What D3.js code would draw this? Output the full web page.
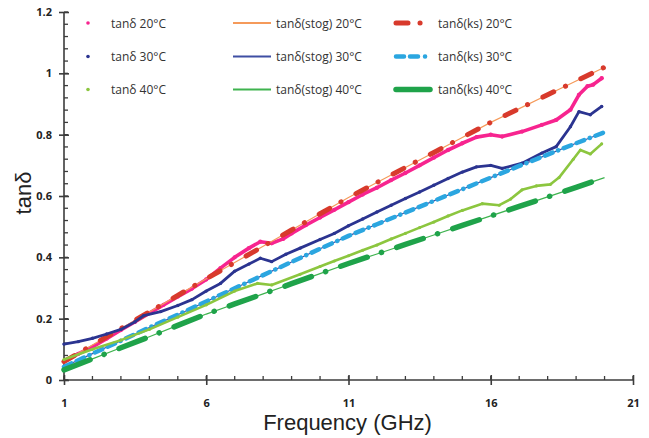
<!DOCTYPE html>
<html>
<head>
<meta charset="utf-8">
<script src="https://cdn.jsdelivr.net/npm/d3@7"></script>
<style>
  body { margin: 0; background: #fff; }
  text { font-family: "Open Sans", "DejaVu Sans", sans-serif; }
</style>
</head>
<body>
<script>
// Set Dimensions

const xSize = 649; const ySize = 438;
const margin = {left: 64, top: 12, right: 16, bottom: 58};
const xMax = xSize - margin.left - margin.right;
const yMax = ySize - margin.top - margin.bottom;

// Data (frequency in GHz, tan delta)

const xTicks = [1, 6, 11, 16, 21];
const yTicks = [0, 0.2, 0.4, 0.6, 0.8, 1, 1.2];

const f20 = [1, 1.5, 2, 2.5, 3, 3.5, 4, 4.5, 5, 5.5, 6, 6.5, 7, 7.5, 7.9, 8.3, 8.7, 9, 9.5, 10, 10.5, 11, 11.5, 12, 12.5, 13, 13.5, 14, 14.5, 15, 15.5, 16, 16.4, 17.1, 17.8, 18.3, 18.8, 19.1, 19.4, 19.6, 19.9];
const tan20 = [0.06, 0.085, 0.108, 0.135, 0.163, 0.19, 0.218, 0.245, 0.272, 0.298, 0.328, 0.365, 0.40, 0.43, 0.451, 0.446, 0.46, 0.478, 0.505, 0.53, 0.555, 0.58, 0.605, 0.627, 0.652, 0.675, 0.70, 0.725, 0.75, 0.772, 0.792, 0.80, 0.794, 0.81, 0.832, 0.848, 0.881, 0.93, 0.958, 0.963, 0.984];

const f30 = [1, 1.5, 2, 2.5, 3, 3.5, 3.8, 4.4, 5, 5.5, 6, 6.5, 7, 7.5, 7.9, 8.3, 8.8, 9.3, 10, 10.5, 11, 11.5, 12, 12.5, 13, 13.5, 14, 14.5, 15, 15.5, 16, 16.4, 17.1, 17.8, 18.3, 18.8, 19.1, 19.5, 19.9];
const tan30 = [0.117, 0.125, 0.136, 0.15, 0.165, 0.19, 0.21, 0.223, 0.243, 0.262, 0.29, 0.315, 0.355, 0.378, 0.397, 0.386, 0.41, 0.43, 0.458, 0.478, 0.503, 0.525, 0.548, 0.57, 0.592, 0.613, 0.635, 0.657, 0.678, 0.695, 0.70, 0.69, 0.707, 0.74, 0.761, 0.826, 0.875, 0.865, 0.892];

const f40 = [1, 2, 3, 4, 5, 6, 7, 7.8, 8.3, 9.3, 10, 10.5, 11, 11.5, 12, 12.5, 13, 13.5, 14, 14.5, 15, 15.7, 16.3, 16.7, 17.1, 17.6, 18.1, 18.4, 18.9, 19.15, 19.5, 19.9];
const tan40 = [0.067, 0.10, 0.13, 0.165, 0.205, 0.245, 0.29, 0.315, 0.31, 0.345, 0.37, 0.388, 0.405, 0.423, 0.44, 0.46, 0.478, 0.497, 0.515, 0.535, 0.553, 0.575, 0.57, 0.59, 0.62, 0.633, 0.638, 0.66, 0.72, 0.75, 0.737, 0.77];

const fModel = [1, 2, 3, 4, 5, 6, 7, 8, 9, 10, 11, 12, 13, 14, 15, 16, 17, 18, 19, 20];
const stog20 = [0.060, 0.114, 0.168, 0.222, 0.276, 0.330, 0.383, 0.436, 0.489, 0.542, 0.595, 0.644, 0.693, 0.742, 0.791, 0.840, 0.885, 0.930, 0.975, 1.020];
const ks20   = [0.060, 0.114, 0.168, 0.222, 0.276, 0.330, 0.383, 0.436, 0.489, 0.542, 0.595, 0.644, 0.693, 0.742, 0.791, 0.840, 0.885, 0.930, 0.975, 1.020];
const stog30 = [0.043, 0.086, 0.128, 0.171, 0.213, 0.256, 0.299, 0.342, 0.385, 0.428, 0.470, 0.508, 0.546, 0.584, 0.622, 0.660, 0.698, 0.735, 0.772, 0.808];
const ks30   = [0.043, 0.086, 0.128, 0.171, 0.213, 0.256, 0.299, 0.342, 0.385, 0.428, 0.470, 0.508, 0.546, 0.584, 0.622, 0.660, 0.698, 0.735, 0.772, 0.808];
const stog40 = [0.033, 0.069, 0.105, 0.141, 0.178, 0.215, 0.248, 0.281, 0.314, 0.347, 0.380, 0.411, 0.442, 0.473, 0.504, 0.535, 0.566, 0.597, 0.628, 0.660];
const ks40   = [0.033, 0.069, 0.105, 0.141, 0.178, 0.215, 0.248, 0.281, 0.314, 0.347, 0.380, 0.411, 0.442, 0.473, 0.504, 0.535, 0.566, 0.597, 0.628, 0.660];

const names = ["tanδ 20°C", "tanδ(stog) 20°C", "tanδ(ks) 20°C",
               "tanδ 30°C", "tanδ(stog) 30°C", "tanδ(ks) 30°C",
               "tanδ 40°C", "tanδ(stog) 40°C", "tanδ(ks) 40°C"];

// series table, in drawing order

const series = [
  {name: names[0], xs: f20, ys: tan20, kind: "dots", color: "#f7248f", width: 3.6},
  {name: names[1], xs: fModel, ys: stog20, kind: "line", color: "#f59a5a", width: 1.2},
  {name: names[2], xs: fModel, ys: ks20, kind: "dash", color: "#d83a2c", width: 5, dash: "12,13,0.1,17", legDash: "12,12,0.1,30"},
  {name: names[3], xs: f30, ys: tan30, kind: "dots", color: "#2b3490", width: 2.8},
  {name: names[4], xs: fModel, ys: stog30, kind: "line", color: "#3f4fa3", width: 1.2},
  {name: names[5], xs: fModel, ys: ks30, kind: "dash", color: "#2ba6e0", width: 4.5, dash: "8,6,8,6,0.1,6", legDash: "8,6,8,7,0.1,30"},
  {name: names[6], xs: f40, ys: tan40, kind: "dots", color: "#8cc63f", width: 2.6},
  {name: names[7], xs: fModel, ys: stog40, kind: "line", color: "#3fb34f", width: 1.2},
  {name: names[8], xs: fModel, ys: ks40, kind: "dash", color: "#1fa34a", width: 5.5, dash: "28,15,0.1,16", legDash: null}
];

//Create the SVG

const svg = d3.select("body")
 .append("svg")
 .attr("width", xSize)
 .attr("height", ySize)
 .append("g")
 .attr("transform", "translate(" + margin.left + "," + margin.top + ")");

const x = d3.scaleLinear().domain([1, 21]).range([0, xMax]);
const y = d3.scaleLinear().domain([0, 1.2]).range([yMax, 0]);

const axisColor = "#3c3c3c";

// minor ticks (inside) then major ticks (crossing) then axis lines

svg.append("g")
 .selectAll("line")
 .data(d3.range(1, 21.01, 1))
 .join("line")
 .attr("x1", d => x(d)).attr("x2", d => x(d))
 .attr("y1", yMax).attr("y2", yMax - 4)
 .attr("stroke", axisColor).attr("stroke-width", 1.3);

svg.append("g")
 .selectAll("line")
 .data(d3.range(0, 1.2001, 0.04))
 .join("line")
 .attr("x1", 0).attr("x2", 4)
 .attr("y1", d => y(d)).attr("y2", d => y(d))
 .attr("stroke", axisColor).attr("stroke-width", 1.3);

//bottom axis

const xAxis = svg.append("g")
 .attr("transform", "translate(0," + yMax + ")")
 .call(d3.axisBottom(x).tickValues(xTicks).tickSize(5).tickPadding(14).tickFormat(d3.format("d")));
xAxis.selectAll(".tick line").attr("y1", -5);

//left axis

const yAxis = svg.append("g")
 .call(d3.axisLeft(y).tickValues(yTicks).tickSize(5).tickPadding(7).tickFormat(d => d === 0 || d === 1 ? d : d.toFixed(1)));
yAxis.selectAll(".tick line").attr("x1", 5);

[xAxis, yAxis].forEach(a => {
  a.select(".domain").attr("stroke", axisColor).attr("stroke-width", 1.6);
  a.selectAll(".tick line").attr("stroke", axisColor).attr("stroke-width", 1.6);
  a.selectAll(".tick text")
   .attr("fill", "#222")
   .style("font-size", "11px")
   .style("font-weight", "bold");
});
xAxis.select(".domain").attr("d", "M0,0H" + xMax);
yAxis.select(".domain").attr("d", "M0,0V" + yMax);

// axis titles

svg.append("text")
 .attr("x", x(11) - 1)
 .attr("y", yMax + 50)
 .attr("text-anchor", "middle")
 .attr("fill", "#222")
 .style("font-family", "'Liberation Sans', Arial, sans-serif")
 .style("font-size", "22px")
 .text("Frequency (GHz)");

svg.append("text")
 .attr("transform", "translate(" + (-33) + "," + 181 + ") rotate(-90)")
 .attr("text-anchor", "middle")
 .attr("fill", "#222")
 .style("font-family", "'Liberation Sans', Arial, sans-serif")
 .style("font-size", "22px")
 .text("tanδ");

// the series

const line = d3.line().x(d => x(d[0])).y(d => y(d[1]));

series.forEach(s => {
  const pts = s.xs.map((v, i) => [v, s.ys[i]]);
  const p = svg.append("path")
   .datum(pts)
   .attr("fill", "none")
   .attr("stroke", s.color)
   .attr("stroke-width", s.width)
   .attr("stroke-linejoin", "round")
   .attr("stroke-linecap", s.kind === "line" ? "butt" : "round")
   .attr("d", line);
  if (s.kind === "dash") p.attr("stroke-dasharray", s.dash);
  if (s.kind === "dots") {
    svg.append("g")
     .selectAll("circle")
     .data(pts)
     .join("circle")
     .attr("cx", d => x(d[0]))
     .attr("cy", d => y(d[1]))
     .attr("r", s.width * 0.6)
     .attr("fill", s.color);
  }
});

// legend, three rows of three

const leg = svg.append("g").attr("transform", "translate(0," + (-margin.top) + ")");
const colX = [24, 168, 331];
const rowY = [23, 56.5, 89.5];

series.forEach((s, i) => {
  const c = i % 3, r = Math.floor(i / 3);
  const g = leg.append("g").attr("transform", "translate(" + colX[c] + "," + rowY[r] + ")");
  if (s.kind === "dots") {
    g.append("circle").attr("cx", 0).attr("cy", 0).attr("r", 1.8).attr("fill", s.color);
    g.append("text").attr("x", 23).attr("y", 4.5)
     .attr("fill", "#333").style("font-size", "12px").text(s.name);
  } else {
    const l = g.append("line")
     .attr("x1", 1).attr("x2", s.kind === "line" ? 39 : 35)
     .attr("y1", 0).attr("y2", 0)
     .attr("stroke", s.color)
     .attr("stroke-width", s.kind === "line" ? 2 : s.width)
     .attr("stroke-linecap", s.kind === "line" ? "butt" : "round");
    if (s.legDash) l.attr("stroke-dasharray", s.legDash);
    g.append("text").attr("x", s.kind === "line" ? 44 : 43).attr("y", 4.5)
     .attr("fill", "#333").style("font-size", "12px").text(s.name);
  }
});
</script>
</body>
</html>
